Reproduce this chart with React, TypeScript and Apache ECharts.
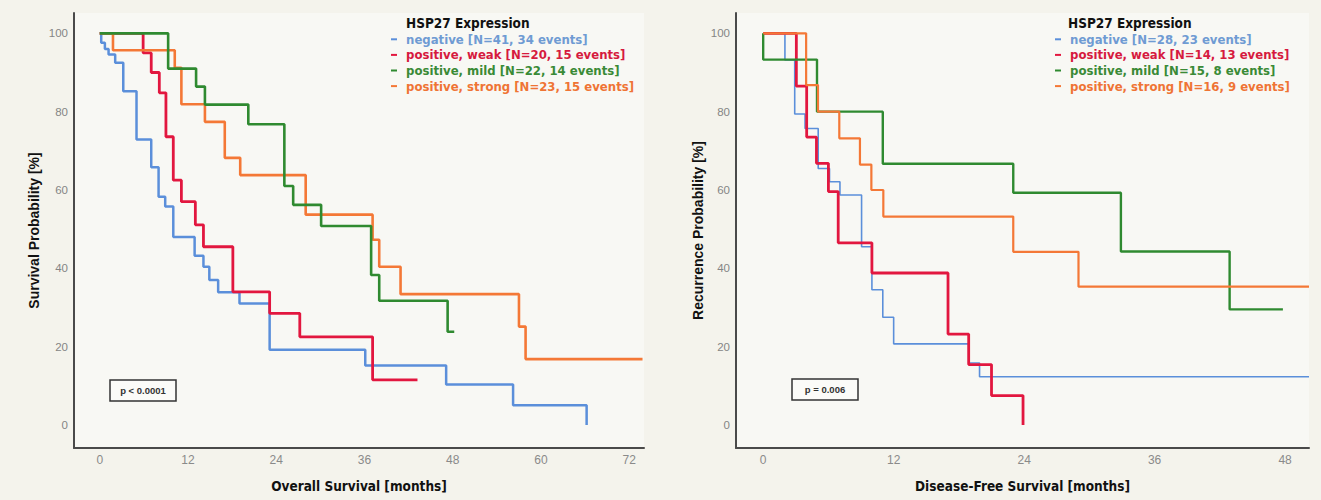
import React, { useEffect, useRef } from "react";
import * as echarts from "echarts";

// ---------- Data ----------
const osNegMonths = [0, 0.2, 0.7, 1.2, 2.1, 3.2, 5.0, 7.0, 8.0, 8.9, 10.0, 12.9, 14.1, 14.9, 16.1, 19.0, 23.1, 36.1, 47.1, 56.2, 66.2];
const osNegSurv = [100, 97.6, 96.0, 94.6, 92.5, 85.2, 72.9, 65.8, 58.3, 55.8, 48.0, 43.2, 40.4, 37.0, 33.9, 31.0, 19.2, 15.2, 10.3, 5.0, 0];
const osWeakMonths = [0, 5.9, 7.0, 8.1, 9.0, 10.0, 11.1, 13.0, 14.1, 18.1, 23.1, 27.2, 37.1, 43.2];
const osWeakSurv = [100, 95, 90, 84.8, 73.6, 62.5, 57.0, 51.1, 45.5, 34.0, 28.5, 22.5, 11.5, 11.5];
const osMildMonths = [0, 9.3, 13.1, 14.3, 20.2, 25.1, 26.3, 30.1, 36.9, 38.0, 47.3, 48.2];
const osMildSurv = [100, 91.0, 86.4, 81.8, 76.8, 61.0, 56.2, 50.8, 38.3, 31.7, 23.8, 23.8];
const osStrongMonths = [0, 1.8, 10.2, 11.1, 14.3, 17.0, 19.1, 28.0, 37.1, 38.0, 40.9, 57.0, 57.9, 73.8];
const osStrongSurv = [100, 95.7, 91.2, 81.9, 77.4, 68.2, 63.8, 53.7, 47.3, 40.4, 33.4, 25.1, 16.8, 16.8];

const dfsNegMonths = [0, 2.0, 2.9, 3.85, 5.06, 6.1, 7.06, 9.05, 10.0, 11.0, 12.0, 18.9, 19.9, 50.2];
const dfsNegSurv = [100, 93.2, 79.4, 75.7, 65.5, 62.1, 58.7, 45.5, 34.5, 27.5, 20.7, 15.8, 12.3, 12.3];
const dfsWeakMonths = [0, 3.05, 4.0, 4.9, 6.0, 6.9, 10.0, 17.0, 18.9, 21.0, 23.9];
const dfsWeakSurv = [100, 86.5, 73.5, 66.8, 59.6, 46.5, 38.8, 23.2, 15.4, 7.5, 0];
const dfsMildMonths = [0, 0, 4.95, 11.0, 23.0, 32.9, 42.9, 47.8];
const dfsMildSurv = [100, 93.3, 80.0, 66.7, 59.3, 44.3, 29.5, 29.5];
const dfsStrongMonths = [0, 3.95, 5.04, 7.0, 8.9, 9.95, 11.05, 23.0, 29.0, 50.2];
const dfsStrongSurv = [100, 86.8, 80.0, 73.2, 66.5, 60.0, 53.2, 44.2, 35.3, 35.3];

const osNames = [
  "negative [N=41, 34 events]",
  "positive, weak [N=20, 15 events]",
  "positive, mild [N=22, 14 events]",
  "positive, strong [N=23, 15 events]",
];
const dfsNames = [
  "negative [N=28, 23 events]",
  "positive, weak [N=14, 13 events]",
  "positive, mild [N=15, 8 events]",
  "positive, strong [N=16, 9 events]",
];

const xTicksOS = [0, 12, 24, 36, 48, 60, 72];
const xTicksDFS = [0, 12, 24, 36, 48];
const yTicks = [0, 20, 40, 60, 80, 100];

const lineColors = ["#5b8fda", "#e2173f", "#2f8a30", "#f47836"];
const textColors = ["#6f9bd3", "#d61a3e", "#3a8a36", "#ef7434"];
const lineWidthsOS = [2.5, 2.8, 2.6, 2.6];
const lineWidthsDFS = [1.6, 2.8, 2.4, 2.2];

const narrow = "'Liberation Sans Narrow', 'DejaVu Sans Condensed', 'Roboto Condensed', sans-serif";
const sans = "'Liberation Sans', 'DejaVu Sans', sans-serif";

const zip = (xs: number[], ys: number[]) => xs.map((x, i) => [x, ys[i]]);

export default function App() {
  const ref = useRef<HTMLDivElement>(null);

  useEffect(() => {
    if (!ref.current) return;
    const chart = echarts.init(ref.current, null, { renderer: "svg" });

    const osData = [
      zip(osNegMonths, osNegSurv),
      zip(osWeakMonths, osWeakSurv),
      zip(osMildMonths, osMildSurv),
      zip(osStrongMonths, osStrongSurv),
    ];
    const dfsData = [
      zip(dfsNegMonths, dfsNegSurv),
      zip(dfsWeakMonths, dfsWeakSurv),
      zip(dfsMildMonths, dfsMildSurv),
      zip(dfsStrongMonths, dfsStrongSurv),
    ];

    const series: any[] = [];
    osData.forEach((d, i) =>
      series.push({
        type: "line",
        name: osNames[i],
        xAxisIndex: 0,
        yAxisIndex: 0,
        step: "end",
        symbol: "none",
        data: d,
        color: lineColors[i],
        lineStyle: { color: lineColors[i], width: lineWidthsOS[i] },
        z: 3 + (i === 2 ? 1 : 0),
      })
    );
    dfsData.forEach((d, i) =>
      series.push({
        type: "line",
        name: dfsNames[i],
        xAxisIndex: 1,
        yAxisIndex: 1,
        step: "end",
        symbol: "none",
        data: d,
        color: lineColors[i],
        lineStyle: { color: lineColors[i], width: lineWidthsDFS[i] },
        z: 3,
      })
    );

    const xAxisBase = (ticks: number[], name: string, idx: number, min: number, max: number) => ({
      type: "value",
      gridIndex: idx,
      min,
      max,
      name,
      nameLocation: "middle",
      nameGap: 31,
      nameTextStyle: { fontFamily: narrow, fontWeight: "bold", fontSize: 13.5, color: "#111" },
      axisLine: { show: true, onZero: false, lineStyle: { color: "#4a4a4a", width: 2 } },
      axisTick: { show: false },
      splitLine: { show: false },
      axisLabel: { customValues: ticks, color: "#8a8a8a", fontSize: 12, fontFamily: sans, margin: 6 },
    });
    const yAxisBase = (name: string, idx: number, gap: number) => ({
      type: "value",
      gridIndex: idx,
      min: -5.9,
      max: 105.2,
      name,
      nameLocation: "middle",
      nameGap: gap,
      nameTextStyle: { fontFamily: sans, fontWeight: "bold", fontSize: 14, color: "#111" },
      axisLine: { show: true, onZero: false, lineStyle: { color: "#4a4a4a", width: 2 } },
      axisTick: { show: false },
      splitLine: { show: false },
      axisLabel: { customValues: yTicks, color: "#858585", fontSize: 11.5, fontFamily: sans, margin: 6, padding: [6, 0, 0, 0] },
    });

    const legendBase = (names: string[], left: number) => ({
      orient: "vertical",
      left,
      top: 31.5,
      padding: 0,
      itemGap: 0,
      itemWidth: 6,
      itemHeight: 2,
      icon: "rect",
      selectedMode: false,
      formatter: " {name}",
      textStyle: { fontFamily: narrow, fontWeight: "bold", fontSize: 13, lineHeight: 15.6 },
      data: names.map((n, i) => ({ name: n, textStyle: { color: textColors[i] } })),
    });

    const pBox = (x: number, y: number, label: string) => ({
      type: "group",
      x,
      y,
      children: [
        { type: "rect", shape: { x: 0, y: 0, width: 66, height: 21 }, style: { fill: "#fbfbf8", stroke: "#333", lineWidth: 1.5 } },
        {
          type: "text",
          x: 33,
          y: 10.5,
          style: { text: label, fill: "#333", font: "bold 9.5px " + sans, textAlign: "center", textVerticalAlign: "middle" },
        },
      ],
    });

    const titleStyle = { fontFamily: narrow, fontWeight: "bold", fontSize: 13.5, color: "#111" };

    chart.setOption({
      animation: false,
      backgroundColor: "#f4f3ec",
      grid: [
        { left: 74, top: 13, width: 570, height: 435, show: true, backgroundColor: "#f8f8f4", borderWidth: 0 },
        { left: 736, top: 13, width: 573, height: 435, show: true, backgroundColor: "#f8f8f4", borderWidth: 0 },
      ],
      xAxis: [
        xAxisBase(xTicksOS, "Overall Survival [months]", 0, -3.5, 74),
        xAxisBase(xTicksDFS, "Disease-Free Survival [months]", 1, -2.5, 50.2),
      ],
      yAxis: [yAxisBase("Survival Probability [%]", 0, 33), yAxisBase("Recurrence Probability [%]", 1, 31)],
      title: [
        { text: "HSP27 Expression", left: 406, top: 16, padding: 0, textStyle: titleStyle },
        { text: "HSP27 Expression", left: 1068, top: 16, padding: 0, textStyle: titleStyle },
      ],
      legend: [legendBase(osNames, 391), legendBase(dfsNames, 1055)],
      graphic: [pBox(110, 380, "p < 0.0001"), pBox(792, 379, "p = 0.006")],
      series,
    });

    return () => chart.dispose();
  }, []);

  return (
    <div
      ref={ref}
      style={{ position: "absolute", left: 0, top: 0, width: 1321, height: 500, background: "#f4f3ec" }}
    />
  );
}
